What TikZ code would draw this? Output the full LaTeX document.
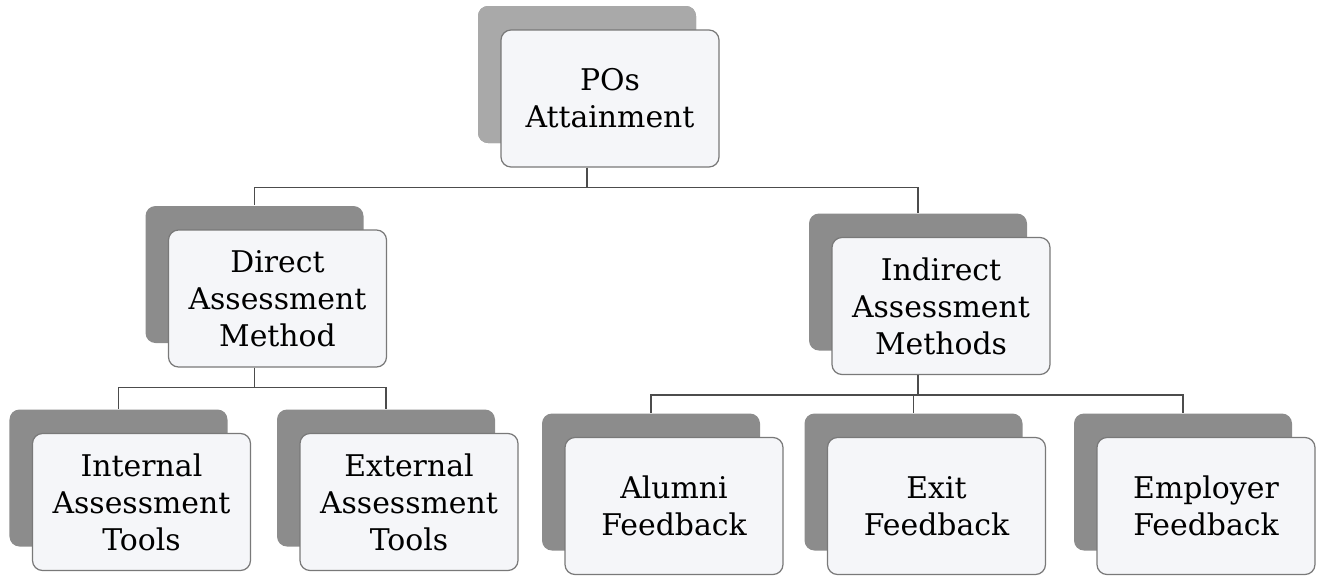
\documentclass[tikz,border=0pt]{standalone}
\usepackage{fontspec}
\setmainfont{DejaVu Serif}
\usetikzlibrary{shadows}
\definecolor{boxgray}{rgb}{0.55,0.55,0.55}
\definecolor{boxfill}{rgb}{0.96,0.965,0.975}
\definecolor{linegray}{rgb}{0.3,0.3,0.3}

\begin{document}
\begin{tikzpicture}[font=\fontsize{17}{21}\selectfont]
\useasboundingbox (0,0) rectangle (26.46,-11.62);
\tikzset{every node/.style={rectangle, rounded corners=0.2cm,
                            draw=linegray!75, fill=boxfill, line width=0.7pt,
                            minimum width=4.36cm, minimum height=2.74cm,
                            inner sep=0pt, align=center,
                            general shadow={fill=boxgray, shadow xshift=-0.46cm,
                                            shadow yshift=0.48cm}}}
\node(pos) at (12.20,-1.97)
  [general shadow={fill=boxgray!75, shadow xshift=-0.46cm, shadow yshift=0.48cm}]
  {POs\\
  Attainment};

\node(direct) [below of=pos, node distance=4cm, xshift=-6.65cm]
  {Direct\\
  Assessment\\
  Method};

\node(indirect) [below of=pos, node distance=4.15cm, xshift=6.62cm]
  {Indirect\\
  Assessment\\
  Methods};

\node(internal) [below of=direct, node distance=4.07cm, xshift=-2.72cm]
  {Internal\\
  Assessment\\
  Tools};

\node(external) [right of=internal, node distance=5.35cm]
  {External\\
  Assessment\\
  Tools};

\node(alumni) [below of=indirect, node distance=4cm, xshift=-5.34cm]
  {Alumni\\
  Feedback};

\node(exit) [right of=alumni, node distance=5.25cm]
  {Exit\\
  Feedback};

\node(employer) [right of=exit, node distance=5.39cm]
  {Employer\\
  Feedback};

\draw[linegray, line width=0.9pt] ([xshift=-0.46cm]pos.south) -- ++(0,-0.4)
  -| ([xshift=-0.46cm, yshift=0.48cm]direct.north);
\draw[linegray, line width=0.9pt] ([xshift=-0.46cm]pos.south) -- ++(0,-0.4)
  -| ([xshift=-0.46cm, yshift=0.48cm]indirect.north);
\draw[linegray, line width=0.9pt] ([xshift=-0.46cm]direct.south) -- ++(0,-0.4)
  -| ([xshift=-0.46cm, yshift=0.48cm]internal.north);
\draw[linegray, line width=0.9pt] ([xshift=-0.46cm]direct.south) -- ++(0,-0.4)
  -| ([xshift=-0.46cm, yshift=0.48cm]external.north);
\draw[linegray, line width=0.9pt] ([xshift=-0.46cm]indirect.south) -- ++(0,-0.4)
  -| ([xshift=-0.46cm, yshift=0.48cm]alumni.north);
\draw[linegray, line width=0.9pt] ([xshift=-0.46cm]indirect.south) -- ++(0,-0.4)
  -| ([xshift=-0.46cm, yshift=0.48cm]exit.north);
\draw[linegray, line width=0.9pt] ([xshift=-0.46cm]indirect.south) -- ++(0,-0.4)
  -| ([xshift=-0.46cm, yshift=0.48cm]employer.north);

\end{tikzpicture}
\end{document}
